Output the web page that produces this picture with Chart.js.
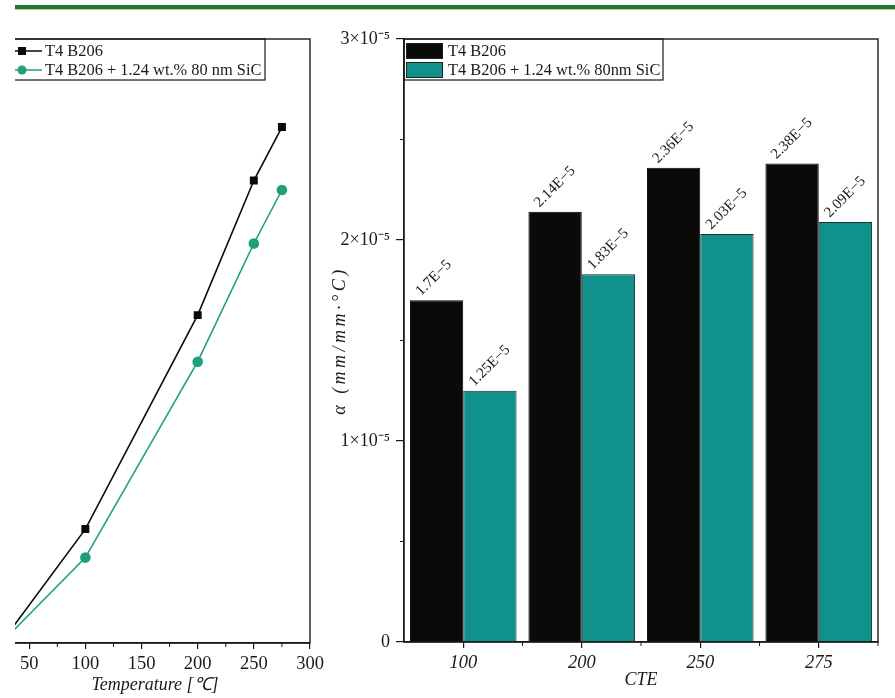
<!DOCTYPE html>
<html>
<head>
<meta charset="utf-8">
<script src="https://cdn.jsdelivr.net/npm/chart.js@4"></script>
<style>
  html, body { margin: 0; padding: 0; background: #fff; }
  body { width: 895px; height: 698px; position: relative; overflow: hidden; }
  #band { position: absolute; left: 15px; top: 5px; width: 880px; height: 4px; background: #1d7a2d; border-bottom: 1px solid #a9cfa5; }
  #leftWrap { position: absolute; left: 15px; top: 0; width: 330px; height: 698px; overflow: hidden; }
  #tempChart { position: absolute; left: -15px; top: 0; }
  #cteChart { position: absolute; left: 320px; top: 0; }
</style>
</head>
<body>
<div id="band"></div>
<div id="leftWrap"><canvas id="tempChart" width="345" height="698"></canvas></div>
<canvas id="cteChart" width="575" height="698"></canvas>
<script>
// ---- thermal strain vs temperature (strain in units of 10^-3) ----
const temperatures = [25, 100, 200, 250, 275];
const strainBase   = [0, 1.32, 3.80, 5.36, 5.98];
const strainSiC    = [0, 0.99, 3.26, 4.63, 5.25];
const tempTicks    = [50, 100, 150, 200, 250, 300];
const tempMinor    = [25, 75, 125, 175, 225, 275];
const lineNames    = ['T4 B206', 'T4 B206 + 1.24 wt.% 80 nm SiC'];

// ---- coefficient of thermal expansion per temperature ----
const cteGroups  = ['100', '200', '250', '275'];
const alphaBase  = [1.7e-5, 2.14e-5, 2.36e-5, 2.38e-5];
const alphaSiC   = [1.25e-5, 1.83e-5, 2.03e-5, 2.09e-5];
const alphaTicks = [0, 1e-5, 2e-5, 3e-5];
const alphaMinor = [0.5e-5, 1.5e-5, 2.5e-5];
const barNames   = ['T4 B206', 'T4 B206 + 1.24 wt.% 80nm SiC'];

const SERIF = '"Liberation Serif", "Times New Roman", serif';
const INK = '#1a1a1a';
const BLACK = '#0a0a0a';
const GREEN = '#1fa07c';
const TEAL = '#11918c';

Chart.defaults.font.family = SERIF;
Chart.defaults.color = INK;

// closed frame around the plot area
const frame = {
  id: 'frame',
  afterDraw(chart) {
    const { ctx, chartArea: a } = chart;
    ctx.save();
    ctx.strokeStyle = INK;
    ctx.lineWidth = 1.4;
    ctx.strokeRect(a.left, a.top, a.right - a.left, a.bottom - a.top);
    ctx.restore();
  }
};

// short outward minor ticks
function minorTicks(id, spec) {
  return {
    id,
    afterDraw(chart) {
      const { ctx, chartArea: a } = chart;
      ctx.save();
      ctx.strokeStyle = INK;
      ctx.lineWidth = 1;
      spec(chart).forEach(t => {
        ctx.beginPath();
        if (t.axis === 'x') { ctx.moveTo(t.p, a.bottom); ctx.lineTo(t.p, a.bottom + 4); }
        else { ctx.moveTo(a.left, t.p); ctx.lineTo(a.left - 4, t.p); }
        ctx.stroke();
      });
      ctx.restore();
    }
  };
}

// ---------------- left: line chart ----------------
const lineLegend = {
  id: 'lineLegend',
  afterDraw(chart) {
    const { ctx } = chart;
    ctx.save();
    ctx.strokeStyle = INK;
    ctx.lineWidth = 1.2;
    ctx.strokeRect(-2, 39, 267, 41);
    ctx.font = '16.4px ' + SERIF;
    ctx.textBaseline = 'middle';
    chart.data.datasets.forEach((ds, i) => {
      const y = 51 + i * 19;
      ctx.strokeStyle = ds.borderColor;
      ctx.lineWidth = 1.6;
      ctx.beginPath(); ctx.moveTo(0, y); ctx.lineTo(42, y); ctx.stroke();
      ctx.fillStyle = ds.backgroundColor;
      if (ds.pointStyle === 'rect') ctx.fillRect(18, y - 4, 8, 8);
      else { ctx.beginPath(); ctx.arc(22, y, 4.5, 0, Math.PI * 2); ctx.fill(); }
      ctx.fillStyle = INK;
      ctx.fillText(ds.label, 45, y + 1);
    });
    ctx.restore();
  }
};

new Chart(document.getElementById('tempChart'), {
  type: 'line',
  data: {
    datasets: [
      { label: lineNames[0], data: temperatures.map((t, i) => ({ x: t, y: strainBase[i] })),
        borderColor: BLACK, backgroundColor: BLACK, borderWidth: 1.6,
        pointStyle: 'rect', pointRadius: 4.5, pointHoverRadius: 4.5, tension: 0 },
      { label: lineNames[1], data: temperatures.map((t, i) => ({ x: t, y: strainSiC[i] })),
        borderColor: GREEN, backgroundColor: GREEN, borderWidth: 1.6,
        pointStyle: 'circle', pointRadius: 4.5, pointHoverRadius: 4.5, tension: 0 }
    ]
  },
  options: {
    responsive: false, animation: false, devicePixelRatio: 1,
    layout: { autoPadding: false, padding: { left: 0, right: 35, top: 39, bottom: 0 } },
    plugins: { legend: { display: false }, tooltip: { enabled: false } },
    scales: {
      x: {
        type: 'linear', min: 24, max: 300,
        afterBuildTicks: s => { s.ticks = tempTicks.map(v => ({ value: v })); },
        afterFit: s => { s.height = 55; s.paddingLeft = 0; s.paddingRight = 0; },
        ticks: { font: { size: 18.5 }, color: INK, padding: 4, maxRotation: 0 },
        grid: { drawOnChartArea: false, color: INK, tickLength: 6, lineWidth: 1.2 },
        border: { color: INK, width: 1.4 },
        title: { display: true, text: 'Temperature [℃]', color: INK,
                 font: { size: 18, style: 'italic' }, padding: { top: 0, bottom: 2 } }
      },
      y: { display: false, min: 0, max: 7 }
    }
  },
  plugins: [frame, lineLegend,
    minorTicks('tempMinor', c => tempMinor.map(v => ({ axis: 'x', p: c.scales.x.getPixelForValue(v) })))]
});

// ---------------- right: grouped bars ----------------
const barLegend = {
  id: 'barLegend',
  afterDraw(chart) {
    const { ctx, chartArea: a } = chart;
    ctx.save();
    ctx.strokeStyle = INK;
    ctx.lineWidth = 1.2;
    ctx.strokeRect(a.left, a.top, 259, 41);
    ctx.font = '16.4px ' + SERIF;
    ctx.textBaseline = 'middle';
    chart.data.datasets.forEach((ds, i) => {
      const y = a.top + 4 + i * 19;
      ctx.fillStyle = ds.backgroundColor;
      ctx.fillRect(a.left + 2, y, 37, 16);
      ctx.strokeStyle = '#222';
      ctx.lineWidth = 1;
      ctx.strokeRect(a.left + 2.5, y + 0.5, 36, 15);
      ctx.fillStyle = INK;
      ctx.fillText(ds.label, a.left + 44, y + 9);
    });
    ctx.restore();
  }
};

// value written above each bar, slanted
const barValues = {
  id: 'barValues',
  afterDatasetsDraw(chart) {
    const { ctx } = chart;
    ctx.save();
    ctx.font = '15px ' + SERIF;
    ctx.fillStyle = INK;
    ctx.textBaseline = 'alphabetic';
    chart.data.datasets.forEach((ds, di) => {
      chart.getDatasetMeta(di).data.forEach((bar, i) => {
        const text = String(+(ds.data[i] * 1e5).toFixed(2)) + 'E\u22125';
        ctx.save();
        ctx.translate(bar.x - bar.width / 2 + 11, bar.y - 4);
        ctx.rotate(-Math.PI / 4);
        ctx.fillText(text, 0, 0);
        ctx.restore();
      });
    });
    ctx.restore();
  }
};

// rotated y-axis caption
const alphaTitle = {
  id: 'alphaTitle',
  afterDraw(chart) {
    const { ctx, chartArea: a } = chart;
    ctx.save();
    ctx.translate(20, (a.top + a.bottom) / 2);
    ctx.rotate(-Math.PI / 2);
    ctx.font = 'italic 18px ' + SERIF;
    ctx.letterSpacing = '3.5px';
    ctx.fillStyle = INK;
    ctx.textAlign = 'center';
    ctx.textBaseline = 'middle';
    ctx.fillText('α (mm/mm·°C)', 0, 0);
    ctx.restore();
  }
};

new Chart(document.getElementById('cteChart'), {
  type: 'bar',
  data: {
    labels: cteGroups,
    datasets: [
      { label: barNames[0], data: alphaBase, backgroundColor: BLACK, borderColor: '#000', borderWidth: 1 },
      { label: barNames[1], data: alphaSiC, backgroundColor: TEAL, borderColor: '#1c2e2e', borderWidth: 1 }
    ]
  },
  options: {
    responsive: false, animation: false, devicePixelRatio: 1,
    layout: { autoPadding: false, padding: { left: 0, right: 17, top: 39, bottom: 0 } },
    datasets: { bar: { barPercentage: 1.0, categoryPercentage: 0.9 } },
    plugins: { legend: { display: false }, tooltip: { enabled: false } },
    scales: {
      x: {
        afterFit: s => { s.height = 56; s.paddingLeft = 0; s.paddingRight = 0; },
        ticks: { font: { size: 18.5, style: 'italic' }, color: INK, padding: 4 },
        grid: { offset: false, drawOnChartArea: false, color: INK, tickLength: 6, lineWidth: 1.2 },
        border: { color: INK, width: 1.4 },
        title: { display: true, text: 'CTE', color: INK,
                 font: { size: 18, style: 'italic' }, padding: { top: 0, bottom: 7 } }
      },
      y: {
        min: 0, max: 3e-5,
        afterBuildTicks: s => { s.ticks = alphaTicks.map(v => ({ value: v })); },
        afterFit: s => { s.width = 84; },
        ticks: {
          font: { size: 18 }, color: INK, padding: 6,
          callback: v => v === 0 ? '0' : Math.round(v * 1e5) + '×10\u207B\u2075'
        },
        grid: { drawOnChartArea: false, color: INK, tickLength: 8, lineWidth: 1.2 },
        border: { color: INK, width: 1.4 }
      }
    }
  },
  plugins: [frame, barLegend, barValues, alphaTitle,
    minorTicks('alphaMinor', c => {
      const x = c.scales.x, y = c.scales.y;
      const out = alphaMinor.map(v => ({ axis: 'y', p: y.getPixelForValue(v) }));
      for (let i = 0; i + 1 < cteGroups.length; i++) {
        out.push({ axis: 'x', p: (x.getPixelForValue(i) + x.getPixelForValue(i + 1)) / 2 });
      }
      out.push({ axis: 'x', p: x.right });
      return out;
    })]
});
</script>
</body>
</html>
